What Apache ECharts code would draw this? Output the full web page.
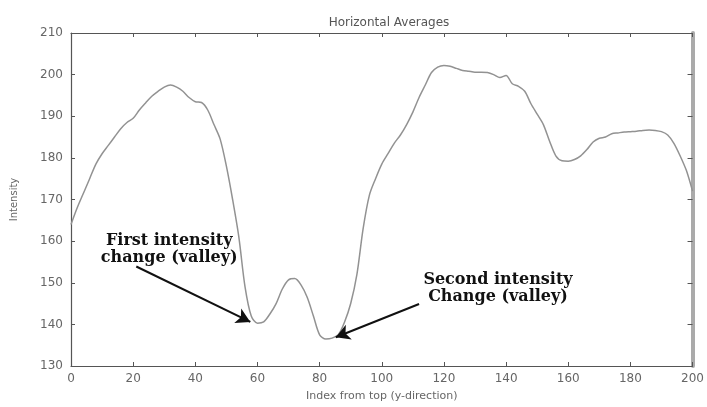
<!DOCTYPE html>
<html>
<head>
<meta charset="utf-8">
<script src="https://cdn.jsdelivr.net/npm/echarts@6/dist/echarts.min.js"></script>
<style>
  html, body { margin: 0; padding: 0; background: #fff; }
  #graph { width: 707px; height: 407px; }
</style>
</head>
<body>
<div id="graph"></div>
<script>
// row index (from the top of the image) and the averaged intensity there
const rowIndex = [0, 2, 4, 6, 8, 10, 12, 14, 16, 18, 20, 22, 24, 26, 28, 30, 32, 34, 36, 38,
  40, 42, 44, 46, 48, 50, 52, 54, 56, 58, 60, 62, 64, 66, 68, 70, 72, 74, 76, 78,
  80, 82, 84, 86, 88, 90, 92, 94, 96, 98, 100, 102, 104, 106, 108, 110, 112, 114, 116, 118,
  120, 122, 124, 126, 128, 130, 132, 134, 136, 138, 140, 142, 144, 146, 148, 150, 152, 154, 156, 158,
  160, 162, 164, 166, 168, 170, 172, 174, 176, 178, 180, 182, 184, 186, 188, 190, 192, 194, 196, 198, 200]
const intensity = [164, 168, 171.5, 175, 178.5, 181, 183, 185, 187, 188.5, 189.5, 191.5, 193.2, 194.8, 196, 197, 197.5, 197, 196, 194.5,
  193.5, 193.3, 191.5, 188, 184.5, 178, 170, 161, 149, 142, 140.3, 140.6, 142.5, 145, 148.5, 150.7, 151, 149.5, 146.5, 142,
  137.5, 136.5, 136.7, 137.5, 140.5, 145, 152, 163, 171, 175, 178.5, 181, 183.5, 185.5, 188, 191, 194.5, 197.5, 200.5, 201.8,
  202.2, 202, 201.5, 201, 200.8, 200.6, 200.6, 200.5, 200, 199.3, 199.8, 197.8, 197.2, 196, 193, 190.5, 188, 184, 180.5, 179.3,
  179.2, 179.6, 180.5, 182, 183.8, 184.7, 185, 185.8, 186, 186.2, 186.3, 186.4, 186.6, 186.7, 186.6, 186.3, 185.5, 183.5, 180.5, 177, 172]

// annotation texts and arrows (data coordinates)
const notes = [
  { text: 'First intensity\nchange (valley)', at: [31.6, 158] },
  { text: 'Second intensity\nChange (valley)', at: [137.4, 148.6] }
]
const arrows = [
  [[21, 153.9], [57.7, 140.6]],
  [[112, 144.9], [85.2, 136.9]]
]

const points = rowIndex.map((x, i) => [x, intensity[i]])
const axisColor = '#555'
const labelColor = '#666'

var myChart = echarts.init(document.getElementById('graph'))
myChart.setOption({
  animation: false,
  backgroundColor: '#fff',
  title: {
    text: 'Horizontal Averages',
    left: 384,
    top: 12,
    textAlign: 'center',
    textStyle: { fontSize: 12, fontWeight: 'normal', color: '#555', fontFamily: 'DejaVu Sans' }
  },
  grid: { left: 71, right: 9, top: 33, bottom: 36 },
  xAxis: [
    {
      type: 'value',
      min: 0, max: 200, interval: 20,
      name: 'Index from top (y-direction)',
      nameLocation: 'middle',
      nameGap: 25,
      nameTextStyle: { fontSize: 11, color: labelColor, fontFamily: 'DejaVu Sans' },
      axisLine: { onZero: false, lineStyle: { color: axisColor, width: 1.2 } },
      axisTick: { inside: true, length: 4, lineStyle: { color: axisColor } },
      axisLabel: { fontSize: 12, color: labelColor, fontFamily: 'DejaVu Sans', margin: 7 },
      splitLine: { show: false }
    },
    {
      type: 'value', position: 'top',
      min: 0, max: 200, interval: 20,
      axisLine: { onZero: false, lineStyle: { color: axisColor, width: 1.2 } },
      axisTick: { inside: true, length: 4, lineStyle: { color: axisColor } },
      axisLabel: { show: false },
      splitLine: { show: false }
    }
  ],
  yAxis: [
    {
      type: 'value',
      min: 130, max: 210, interval: 10,
      name: 'Intensity',
      nameLocation: 'middle',
      nameGap: 52,
      nameTextStyle: { fontSize: 10, color: labelColor, fontFamily: 'DejaVu Sans' },
      axisLine: { show: true, onZero: false, lineStyle: { color: axisColor, width: 1.2 } },
      axisTick: { show: true, inside: true, length: 4, lineStyle: { color: axisColor } },
      axisLabel: { fontSize: 12, color: labelColor, fontFamily: 'DejaVu Sans', margin: 8 },
      splitLine: { show: false }
    },
    {
      type: 'value', position: 'right',
      min: 130, max: 210, interval: 10,
      axisLine: { show: true, onZero: false, lineStyle: { color: '#aaa', width: 4 } },
      axisTick: { show: true, inside: true, length: 5, lineStyle: { color: axisColor } },
      axisLabel: { show: false },
      splitLine: { show: false }
    }
  ],
  series: [
    {
      type: 'line',
      data: points,
      showSymbol: false,
      smooth: 0.3,
      lineStyle: { color: '#929292', width: 1.5 },
      markLine: {
        silent: true,
        symbol: ['none', 'arrow'],
        symbolSize: [12, 14],
        lineStyle: { color: '#111', width: 2, type: 'solid' },
        label: { show: false },
        data: arrows.map(a => [{ coord: a[0] }, { coord: a[1] }])
      },
      markPoint: {
        silent: true,
        symbolSize: 0,
        label: {
          show: true,
          position: 'inside',
          color: '#111',
          fontSize: 16,
          fontWeight: 'bold',
          fontFamily: 'DejaVu Serif',
          lineHeight: 17,
          align: 'center'
        },
        data: notes.map(n => ({ coord: n.at, value: n.text, label: { formatter: n.text } }))
      }
    }
  ]
})
</script>
</body>
</html>
